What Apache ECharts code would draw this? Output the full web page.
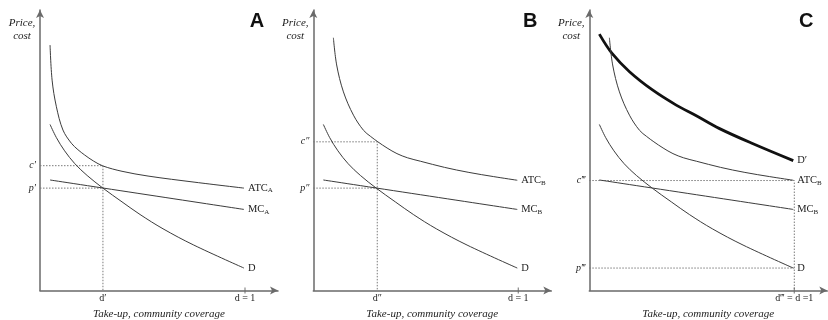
<!DOCTYPE html>
<html>
<head>
<meta charset="utf-8">
<script src="https://cdn.jsdelivr.net/npm/echarts@6/dist/echarts.min.js"></script>
<style>html,body{margin:0;padding:0;background:#fff;}#c{width:828px;height:320px;}</style>
</head>
<body>
<div id="c"></div>
<script>
// ---- data (x: take-up share, 1 = full coverage; y: price/cost units) ----
const D       = [[0.049,5.92],[0.08,5.45],[0.12,4.98],[0.17,4.52],[0.23,4.10],[0.307,3.65],[0.40,3.16],[0.488,2.71],[0.60,2.20],[0.75,1.62],[0.995,0.80]];
const MC      = [[0.049,3.94],[0.995,2.89]];
const ATC_A   = [[0.049,8.75],[0.059,7.50],[0.080,6.55],[0.112,5.72],[0.153,5.25],[0.185,5.02],[0.218,4.83],[0.26,4.62],[0.307,4.44],[0.40,4.25],[0.527,4.08],[0.756,3.86],[0.995,3.65]];
const ATC_B   = [[0.098,9.01],[0.114,8.04],[0.147,7.08],[0.196,6.25],[0.245,5.71],[0.28,5.49],[0.315,5.30],[0.36,5.08],[0.408,4.88],[0.46,4.73],[0.522,4.61],[0.64,4.39],[0.759,4.21],[0.88,4.06],[0.995,3.93]];
const D_PRIME = [[0.049,9.14],[0.111,8.45],[0.196,7.80],[0.310,7.14],[0.424,6.61],[0.522,6.23],[0.633,5.78],[0.796,5.24],[0.995,4.63]];

// equilibrium guide values per panel
const GUIDE_A = [0.307, 4.45, 3.65]; // d', c', p'
const GUIDE_B = [0.312, 5.30, 3.65]; // d'', c'', p''
const GUIDE_C = [1.0, 3.92, 0.80];   // d''', c''', p'''

const X_TICK = [1];
const XLAB_A = ['d′', 'd = 1'];
const XLAB_B = ['d″', 'd = 1'];
const XLAB_C = ['d‴ = d =1'];
const YLAB_A = ['c′', 'p′'];
const YLAB_B = ['c″', 'p″'];
const YLAB_C = ['c‴', 'p‴'];
const PANELS = ['A', 'B', 'C'];

// ---- layout ----
const SERIF = 'Liberation Serif';
const gridLefts = [40, 313.3, 589.3];
const GW = 238, GTOP = 10, GH = 280.5;
const XMAX = GW / 205, YMAX = 10;
const AXIS_COL = '#6a6a6a', CURVE_COL = '#3c3c3c', DOT_COL = '#7a7a7a';

function lookup(vals, labs) {
  return function (v) {
    for (let i = 0; i < vals.length; i++) if (Math.abs(vals[i] - v) < 1e-6) return labs[i];
    return '';
  };
}

const grids = gridLefts.map(l => ({left: l, top: GTOP, width: GW, height: GH, containLabel: false, outerBoundsMode: 'none'}));

function xAxis(i, vals, labs) {
  return {
    type: 'value', gridIndex: i, min: 0, max: XMAX,
    name: 'Take-up, community coverage', nameLocation: 'middle', nameGap: 18,
    nameTextStyle: {fontFamily: SERIF, fontStyle: 'italic', fontSize: 11, color: '#222'},
    axisLine: {show: true, symbol: ['none', 'arrow'], symbolSize: [6, 8], lineStyle: {color: AXIS_COL, width: 1.5}},
    axisTick: {show: false},
    splitLine: {show: false},
    axisLabel: {customValues: vals, formatter: lookup(vals, labs), margin: 3,
      fontFamily: SERIF, fontSize: 10, color: '#222', showMinLabel: true, showMaxLabel: true, hideOverlap: false}
  };
}
function yAxis(i, vals, labs) {
  return {
    type: 'value', gridIndex: i, min: 0, max: YMAX,
    axisLine: {show: true, symbol: ['none', 'arrow'], symbolSize: [6, 8], lineStyle: {color: AXIS_COL, width: 1.5}},
    axisTick: {show: false},
    splitLine: {show: false},
    axisLabel: {customValues: vals, formatter: lookup(vals, labs), margin: 4,
      fontFamily: SERIF, fontStyle: 'italic', fontSize: 10, color: '#222', hideOverlap: false}
  };
}

const rich = {
  n: {fontFamily: SERIF, fontSize: 10.5, color: '#222', lineHeight: 12},
  s: {fontFamily: SERIF, fontSize: 7, color: '#222', lineHeight: 12, verticalAlign: 'bottom', padding: [5, 0, 0, 0]}
};

function curve(i, data, text, width, color) {
  return {
    type: 'line', xAxisIndex: i, yAxisIndex: i, data: data, symbol: 'none',
    smooth: 0.35, silent: true, z: 3,
    lineStyle: {color: color || CURVE_COL, width: width || 1},
    endLabel: {show: true, formatter: text, rich: rich, distance: 4}
  };
}
function dotted(i, data) {
  return {
    type: 'line', xAxisIndex: i, yAxisIndex: i, data: data, symbol: 'none', silent: true, z: 2,
    lineStyle: {color: DOT_COL, width: 1, type: [1.5, 1.5]}
  };
}
function tickMark(i) {
  return {
    type: 'scatter', xAxisIndex: i, yAxisIndex: i, data: X_TICK.map(v => [v, 0]),
    symbol: 'rect', symbolSize: [1.2, 6], itemStyle: {color: AXIS_COL}, silent: true, clip: false, z: 4
  };
}

const series = [
  // Panel A
  curve(0, ATC_A, '{n|ATC}{s|A}'),
  curve(0, MC, '{n|MC}{s|A}'),
  curve(0, D, '{n|D}'),
  dotted(0, [[0, GUIDE_A[1]], [GUIDE_A[0], GUIDE_A[1]], [GUIDE_A[0], 0]]),
  dotted(0, [[0, GUIDE_A[2]], [GUIDE_A[0], GUIDE_A[2]]]),
  tickMark(0),
  // Panel B
  curve(1, ATC_B, '{n|ATC}{s|B}'),
  curve(1, MC, '{n|MC}{s|B}'),
  curve(1, D, '{n|D}'),
  dotted(1, [[0, GUIDE_B[1]], [GUIDE_B[0], GUIDE_B[1]], [GUIDE_B[0], 0]]),
  dotted(1, [[0, GUIDE_B[2]], [GUIDE_B[0], GUIDE_B[2]]]),
  tickMark(1),
  // Panel C
  curve(2, D_PRIME, '{n|D′}', 2.8, '#111'),
  curve(2, ATC_B, '{n|ATC}{s|B}'),
  curve(2, MC, '{n|MC}{s|B}'),
  curve(2, D, '{n|D}'),
  dotted(2, [[0, GUIDE_C[1]], [GUIDE_C[0], GUIDE_C[1]], [GUIDE_C[0], 0]]),
  dotted(2, [[0, GUIDE_C[2]], [GUIDE_C[0], GUIDE_C[2]]]),
  tickMark(2)
];

const graphics = [];
gridLefts.forEach((l, i) => {
  graphics.push({type: 'text', x: l - 18, y: 17, silent: true,
    style: {text: 'Price,\ncost', fontFamily: SERIF, fontStyle: 'italic', fontSize: 11, lineHeight: 12.5,
      fill: '#222', align: 'center', verticalAlign: 'top'}});
  graphics.push({type: 'text', x: l + 217, y: 11, silent: true,
    style: {text: PANELS[i], fontFamily: 'Liberation Sans', fontWeight: 'bold', fontSize: 20,
      fill: '#111', align: 'center', verticalAlign: 'top'}});
});

const chart = echarts.init(document.getElementById('c'), null, {renderer: 'canvas'});
chart.setOption({
  animation: false,
  backgroundColor: '#fff',
  grid: grids,
  xAxis: [xAxis(0, GUIDE_A.slice(0, 1).concat(X_TICK), XLAB_A), xAxis(1, GUIDE_B.slice(0, 1).concat(X_TICK), XLAB_B), xAxis(2, X_TICK, XLAB_C)],
  yAxis: [yAxis(0, [GUIDE_A[1], GUIDE_A[2]], YLAB_A), yAxis(1, [GUIDE_B[1], GUIDE_B[2]], YLAB_B), yAxis(2, [GUIDE_C[1], GUIDE_C[2]], YLAB_C)],
  series: series,
  graphic: graphics
});
</script>
</body>
</html>
